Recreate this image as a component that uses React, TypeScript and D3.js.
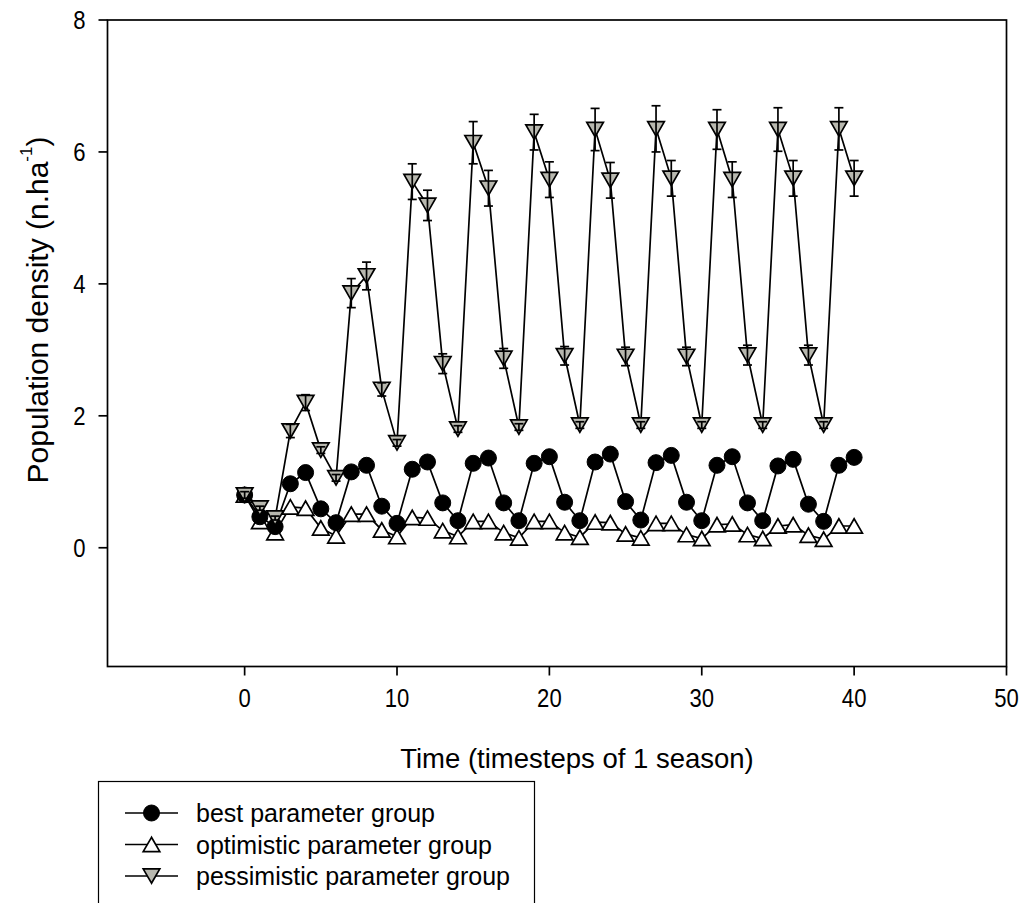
import React from "react";
import * as d3 from "d3";

// Time steps (seasons)
const timesteps: number[] = d3.range(0, 41);

// Mean population density per time step, per parameter group
const bestValues: number[] = [
  0.8, 0.47, 0.32, 0.97, 1.14, 0.59, 0.38, 1.15, 1.25, 0.63, 0.37,
  1.19, 1.3, 0.68, 0.41, 1.28, 1.36, 0.68, 0.41, 1.28, 1.38,
  0.69, 0.41, 1.3, 1.42, 0.7, 0.42, 1.29, 1.4, 0.69, 0.41,
  1.25, 1.38, 0.68, 0.41, 1.24, 1.34, 0.66, 0.4, 1.25, 1.37,
];

const optimisticValues: number[] = [
  0.8, 0.4, 0.23, 0.62, 0.6, 0.3, 0.18, 0.51, 0.51, 0.27, 0.17,
  0.46, 0.45, 0.26, 0.17, 0.4, 0.4, 0.23, 0.15, 0.4, 0.4,
  0.23, 0.16, 0.39, 0.38, 0.21, 0.15, 0.37, 0.37, 0.2, 0.14,
  0.35, 0.36, 0.2, 0.14, 0.33, 0.35, 0.19, 0.13, 0.33, 0.33,
];

const pessimisticValues: number[] = [
  0.8, 0.6, 0.45, 1.77, 2.2, 1.48, 1.06, 3.86, 4.12, 2.4, 1.59,
  5.55, 5.19, 2.79, 1.8, 6.14, 5.45, 2.87, 1.83, 6.3, 5.58,
  2.91, 1.86, 6.34, 5.57, 2.9, 1.86, 6.35, 5.6, 2.9, 1.86,
  6.34, 5.58, 2.92, 1.86, 6.34, 5.6, 2.92, 1.86, 6.35, 5.6,
];

// Standard error of the pessimistic group
const pessimisticErrors: number[] = [
  0.05, 0.03, 0.03, 0.1, 0.12, 0.05, 0.05, 0.22, 0.21, 0.1, 0.05,
  0.27, 0.23, 0.15, 0.05, 0.32, 0.27, 0.15, 0.05, 0.27, 0.27,
  0.14, 0.05, 0.32, 0.27, 0.14, 0.05, 0.35, 0.27, 0.14, 0.05,
  0.3, 0.27, 0.15, 0.05, 0.33, 0.27, 0.15, 0.05, 0.32, 0.27,
];

const xTicks: number[] = [0, 10, 20, 30, 40, 50];
const yTicks: number[] = [0, 2, 4, 6, 8];

const legendLabels: string[] = [
  "best parameter group",
  "optimistic parameter group",
  "pessimistic parameter group",
];

const W = 1026;
const H = 903;
const plot = { left: 107.5, right: 1006.5, top: 20, bottom: 666.5 };
const FONT = "Arial, 'Liberation Sans', Helvetica, sans-serif";
const GRAY = "#b8b8af";
const TICK_FONT = 26;
const TICK_SQUEEZE = 0.85;

const x = d3.scaleLinear().domain([-9, 50]).range([plot.left, plot.right]);
const y = d3.scaleLinear().domain([-1.8, 8]).range([plot.bottom, plot.top]);

type Marker = "circle" | "up" | "down";

function MarkerShape({ kind, cx, cy }: { kind: Marker; cx: number; cy: number }) {
  if (kind === "circle") {
    return <circle cx={cx} cy={cy} r={8} fill="#000" stroke="#000" strokeWidth={1} />;
  }
  const hw = 8.3;
  const hh = 7.2;
  const pts =
    kind === "up"
      ? `${cx},${cy - hh} ${cx - hw},${cy + hh} ${cx + hw},${cy + hh}`
      : `${cx},${cy + hh} ${cx - hw},${cy - hh} ${cx + hw},${cy - hh}`;
  return (
    <polygon
      points={pts}
      fill={kind === "up" ? "#fff" : GRAY}
      stroke="#000"
      strokeWidth={1.7}
      strokeLinejoin="miter"
    />
  );
}

const lineGen = d3
  .line<[number, number]>()
  .x((d) => x(d[0]))
  .y((d) => y(d[1]));

function Series({ values, kind }: { values: number[]; kind: Marker }) {
  const pts: [number, number][] = timesteps.map((t, i) => [t, values[i]]);
  return (
    <g>
      <path d={lineGen(pts) ?? ""} fill="none" stroke="#000" strokeWidth={1.7} />
      {pts.map(([t, v]) => (
        <MarkerShape key={t} kind={kind} cx={x(t)} cy={y(v)} />
      ))}
    </g>
  );
}

export default function App() {
  const cap = 4.5;
  return (
    <svg
      width={W}
      height={H}
      style={{ position: "absolute", left: 0, top: 0, background: "#fff" }}
      fontFamily={FONT}
    >
      <rect x={0} y={0} width={W} height={H} fill="#fff" />

      {/* frame */}
      <rect
        x={plot.left}
        y={plot.top}
        width={plot.right - plot.left}
        height={plot.bottom - plot.top}
        fill="none"
        stroke="#000"
        strokeWidth={1.7}
      />

      {/* y axis ticks */}
      {yTicks.map((v) => (
        <g key={`y${v}`}>
          <line x1={plot.left - 9} x2={plot.left} y1={y(v)} y2={y(v)} stroke="#000" strokeWidth={1.7} />
          <text
            transform={`translate(85.5, ${y(v)}) scale(${TICK_SQUEEZE}, 1)`}
            textAnchor="end"
            dominantBaseline="central"
            fontSize={TICK_FONT}
          >
            {v}
          </text>
        </g>
      ))}

      {/* x axis ticks */}
      {xTicks.map((v) => (
        <g key={`x${v}`}>
          <line x1={x(v)} x2={x(v)} y1={plot.bottom} y2={plot.bottom + 9} stroke="#000" strokeWidth={1.7} />
          <text
            transform={`translate(${x(v)}, 698) scale(${TICK_SQUEEZE}, 1)`}
            textAnchor="middle"
            dominantBaseline="central"
            fontSize={TICK_FONT}
          >
            {v}
          </text>
        </g>
      ))}

      {/* axis titles */}
      <text x={577} y={758} textAnchor="middle" dominantBaseline="central" fontSize={27.5}>
        Time (timesteps of 1 season)
      </text>
      <text
        transform={`translate(37, 310) rotate(-90)`}
        textAnchor="middle"
        dominantBaseline="central"
        fontSize={30}
      >
        Population density (n.ha
        <tspan dy={-11} fontSize={17}>-1</tspan>
        <tspan dy={11}>)</tspan>
      </text>

      {/* data */}
      <Series values={optimisticValues} kind="up" />
      <Series values={bestValues} kind="circle" />
      <Series values={pessimisticValues} kind="down" />

      {/* error bars on the pessimistic group */}
      {timesteps.map((t, i) => {
        const cx = x(t);
        const hi = y(pessimisticValues[i] + pessimisticErrors[i]);
        const lo = y(pessimisticValues[i] - pessimisticErrors[i]);
        return (
          <g key={`e${t}`} stroke="#000" strokeWidth={1.7}>
            <line x1={cx} x2={cx} y1={hi} y2={lo} />
            <line x1={cx - cap} x2={cx + cap} y1={hi} y2={hi} />
            <line x1={cx - cap} x2={cx + cap} y1={lo} y2={lo} />
          </g>
        );
      })}

      {/* legend */}
      <rect x={98.5} y={781.5} width={436} height={140} fill="#fff" stroke="#000" strokeWidth={1.2} />
      {legendLabels.map((label, i) => {
        const ly = 813 + i * 31.5;
        const kind: Marker = i === 0 ? "circle" : i === 1 ? "up" : "down";
        return (
          <g key={label}>
            <line x1={125} x2={178} y1={ly} y2={ly} stroke="#000" strokeWidth={1.7} />
            <MarkerShape kind={kind} cx={151.5} cy={ly} />
            <text x={196} y={ly} dominantBaseline="central" fontSize={25}>
              {label}
            </text>
          </g>
        );
      })}
    </svg>
  );
}
